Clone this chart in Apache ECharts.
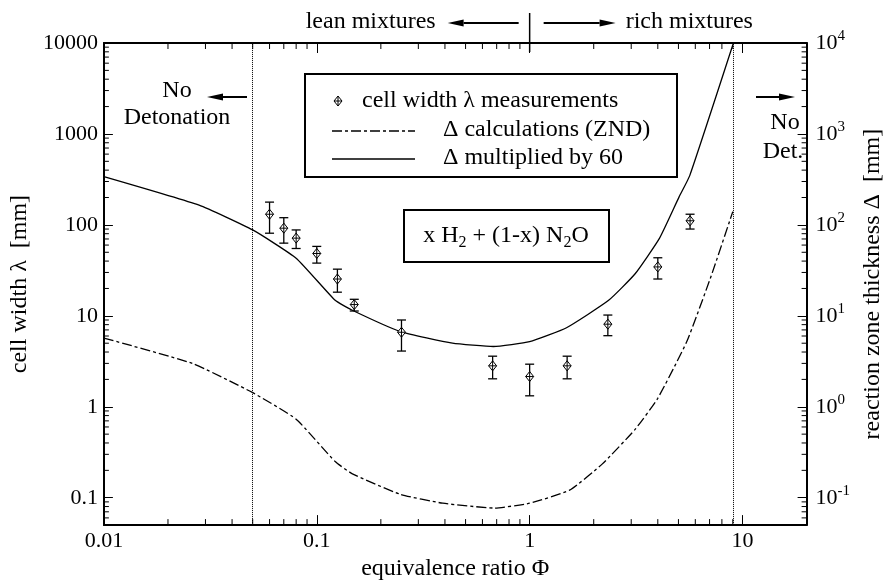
<!DOCTYPE html>
<html>
<head>
<meta charset="utf-8">
<script src="https://cdn.jsdelivr.net/npm/echarts@6/dist/echarts.min.js"></script>
<style>
html, body { margin: 0; padding: 0; background: #fff; }
#chart { width: 893px; height: 586px; }
</style>
</head>
<body>
<div id="chart"></div>
<script>
// measured cell widths (mm) with error bar ends
const measPhi    = [0.06, 0.07, 0.08, 0.10, 0.125, 0.15, 0.25, 0.67, 1.0, 1.5, 2.33, 4.0, 5.67];
const measLambda = [131, 92, 71.5, 48.5, 25.4, 13.3, 6.6, 2.82, 2.15, 2.82, 8.1, 34.5, 111];
const measLow    = [81, 63, 55, 38, 18.2, 11.3, 4.1, 2.03, 1.32, 2.03, 6.05, 25.4, 90];
const measHigh   = [178, 120, 88, 58, 32.6, 15.2, 9.0, 3.6, 2.94, 3.6, 10.2, 43.5, 131];

// ZND reaction zone thickness (mm)
const zndPhi   = [0.01, 0.026, 0.05, 0.08, 0.122, 0.147, 0.247, 0.391, 0.685, 1.0, 1.54, 2.19, 3.12, 3.99, 5.48, 7.13, 9.0];
const zndDelta = [5.7, 3.0, 1.43, 0.73, 0.25, 0.183, 0.109, 0.087, 0.077, 0.087, 0.121, 0.234, 0.56, 1.23, 5.25, 27.6, 140];

// Delta multiplied by 60 (mm)
const scaledPhi   = [0.01, 0.028, 0.05, 0.08, 0.122, 0.146, 0.248, 0.434, 0.676, 1.0, 1.49, 2.35, 3.13, 4.07, 5.03, 5.65, 9.0];
const scaledDelta = [340, 165, 88, 43, 14.8, 11.6, 6.7, 5.0, 4.6, 5.2, 7.4, 14.8, 29, 71, 202, 348, 9500];

// detonation limits
const limitPhi = [0.05, 9];

const X_MIN = 0.01, X_MAX = 20, Y_MIN = 0.05, Y_MAX = 10000;
const FONT = "'Liberation Serif', 'DejaVu Serif', serif";

// minor tick positions 2..9 in each decade
const minorSteps = [2, 3, 4, 5, 6, 7, 8, 9];
const xDecades = [0.01, 0.1, 1];
const yDecades = [0.01, 0.1, 1, 10, 100, 1000];
const xMinor = [];
xDecades.forEach(d => minorSteps.forEach(m => xMinor.push(+(d * m).toPrecision(3))));
const yMinor = [];
yDecades.forEach(d => minorSteps.forEach(m => {
  const v = +(d * m).toPrecision(3);
  if (v > Y_MIN && v < Y_MAX) yMinor.push(v);
}));

function isDecade(v) {
  const k = Math.log10(v);
  return Math.abs(k - Math.round(k)) < 1e-6;
}
function plainLabel(v) {
  if (!isDecade(v)) return '';
  const k = Math.round(Math.log10(v));
  return k < 0 ? v.toFixed(-k) : String(Math.round(v));
}
function powerLabel(v) {
  if (!isDecade(v)) return '';
  const k = Math.round(Math.log10(v));
  return '{b|10}{s|' + k + '}';
}

const black = '#000';
const tickStyle = { color: black, width: 1 };

function baseAxis(extra) {
  return Object.assign({
    type: 'log',
    logBase: 10,
    splitLine: { show: false },
    axisLine: { lineStyle: { color: black, width: 2 } },
    nameTextStyle: { color: black, fontFamily: FONT, fontSize: 24 }
  }, extra);
}

let chart = echarts.init(document.getElementById('chart'));

chart.setOption({
  animation: false,
  backgroundColor: '#fff',
  grid: { left: 103, top: 43, right: 70, bottom: 53 },
  xAxis: [
    baseAxis({
      position: 'bottom', min: X_MIN, max: X_MAX,
      axisTick: { inside: true, length: 10, lineStyle: tickStyle },
      axisLabel: { formatter: plainLabel, color: black, fontFamily: FONT, fontSize: 22, margin: 5 },
      name: 'equivalence ratio Φ', nameLocation: 'middle', nameGap: 31
    }),
    baseAxis({
      position: 'top', min: X_MIN, max: X_MAX,
      axisTick: { inside: true, length: 10, lineStyle: tickStyle },
      axisLabel: { show: false }
    })
  ],
  yAxis: [
    baseAxis({
      position: 'left', min: Y_MIN, max: Y_MAX,
      axisTick: { inside: true, length: 9, lineStyle: tickStyle },
      axisLabel: { formatter: plainLabel, color: black, fontFamily: FONT, fontSize: 22, margin: 6 },
      name: 'cell width λ  [mm]', nameLocation: 'middle', nameRotate: 90, nameGap: 68
    }),
    baseAxis({
      position: 'right', min: Y_MIN, max: Y_MAX,
      axisTick: { inside: true, length: 9, lineStyle: tickStyle },
      axisLabel: {
        formatter: powerLabel, color: black, margin: 9,
        rich: {
          b: { fontFamily: FONT, fontSize: 22, lineHeight: 28, color: black },
          s: { fontFamily: FONT, fontSize: 15, verticalAlign: 'top', color: black }
        }
      },
      name: 'reaction zone thickness Δ  [mm]', nameLocation: 'middle', nameRotate: 90, nameGap: 52
    })
  ],
  series: [
    {
      name: 'Δ multiplied by 60',
      type: 'line',
      xAxisIndex: 0, yAxisIndex: 0,
      data: scaledPhi.map((p, i) => [p, scaledDelta[i]]),
      symbol: 'none',
      smooth: 0.15,
      lineStyle: { color: black, width: 1.3 },
      markLine: {
        silent: true,
        symbol: 'none',
        label: { show: false },
        lineStyle: { color: black, width: 1, type: 'dotted' },
        data: limitPhi.map(v => ({ xAxis: v }))
      },
      z: 3
    },
    {
      name: 'Δ calculations (ZND)',
      type: 'line',
      xAxisIndex: 0, yAxisIndex: 1,
      data: zndPhi.map((p, i) => [p, zndDelta[i]]),
      symbol: 'none',
      smooth: 0.15,
      lineStyle: { color: black, width: 1.3, type: [10, 3, 3, 3] },
      z: 3
    },
    {
      name: 'cell width λ measurements',
      type: 'custom',
      xAxisIndex: 0, yAxisIndex: 0,
      data: measPhi.map((p, i) => [p, measLambda[i], measLow[i], measHigh[i]]),
      encode: { x: 0, y: 1 },
      renderItem: function (params, api) {
        const c = api.coord([api.value(0), api.value(1)]);
        const lo = api.coord([api.value(0), api.value(2)]);
        const hi = api.coord([api.value(0), api.value(3)]);
        const st = { stroke: black, lineWidth: 1.3, fill: null };
        const cap = 4.5, hw = 4, hh = 5;
        return {
          type: 'group',
          children: [
            { type: 'line', shape: { x1: c[0], y1: lo[1], x2: c[0], y2: hi[1] }, style: st },
            { type: 'line', shape: { x1: c[0] - cap, y1: lo[1], x2: c[0] + cap, y2: lo[1] }, style: st },
            { type: 'line', shape: { x1: c[0] - cap, y1: hi[1], x2: c[0] + cap, y2: hi[1] }, style: st },
            { type: 'polygon', shape: { points: [[c[0], c[1] - hh], [c[0] + hw, c[1]], [c[0], c[1] + hh], [c[0] - hw, c[1]]] },
              style: { stroke: black, lineWidth: 1, fill: '#fff' } },
            { type: 'line', shape: { x1: c[0] - hw, y1: c[1], x2: c[0] + hw, y2: c[1] }, style: { stroke: black, lineWidth: 1 } },
            { type: 'line', shape: { x1: c[0], y1: c[1] - hh, x2: c[0], y2: c[1] + hh }, style: { stroke: black, lineWidth: 1 } }
          ]
        };
      },
      z: 4
    },
    {
      // minor ticks on bottom and top axes
      type: 'custom',
      silent: true,
      xAxisIndex: 0, yAxisIndex: 0,
      data: xMinor.map(v => [v, Y_MIN]),
      encode: { x: 0, y: 1 },
      renderItem: function (params, api) {
        const b = api.coord([api.value(0), Y_MIN]);
        const t = api.coord([api.value(0), Y_MAX]);
        const st = { stroke: black, lineWidth: 1 };
        return {
          type: 'group',
          children: [
            { type: 'line', shape: { x1: b[0], y1: b[1], x2: b[0], y2: b[1] - 6 }, style: st },
            { type: 'line', shape: { x1: t[0], y1: t[1], x2: t[0], y2: t[1] + 6 }, style: st }
          ]
        };
      }
    },
    {
      // minor ticks on left and right axes
      type: 'custom',
      silent: true,
      xAxisIndex: 0, yAxisIndex: 0,
      data: yMinor.map(v => [X_MIN, v]),
      encode: { x: 0, y: 1 },
      renderItem: function (params, api) {
        const l = api.coord([X_MIN, api.value(1)]);
        const r = api.coord([X_MAX, api.value(1)]);
        const st = { stroke: black, lineWidth: 1 };
        return {
          type: 'group',
          children: [
            { type: 'line', shape: { x1: l[0], y1: l[1], x2: l[0] + 5, y2: l[1] }, style: st },
            { type: 'line', shape: { x1: r[0], y1: r[1], x2: r[0] - 5, y2: r[1] }, style: st }
          ]
        };
      }
    }
  ]
});

// annotations, legend box and formula box
function arrow(tail, tip, y) {
  const dir = tip > tail ? 1 : -1;
  const headLen = 16, half = 3.5;
  return [
    { type: 'line', shape: { x1: tail, y1: y, x2: tip - dir * headLen, y2: y }, style: { stroke: black, lineWidth: 2 } },
    { type: 'polygon', shape: { points: [[tip, y], [tip - dir * headLen, y - half], [tip - dir * headLen, y + half]] }, style: { fill: black } }
  ];
}
function label(text, x, y, align) {
  return { type: 'text', x: x, y: y,
    style: { text: text, fontFamily: FONT, fontSize: 24, fill: black, align: align || 'center', verticalAlign: 'middle' } };
}

const divX = chart.convertToPixel({ xAxisIndex: 0 }, 1);
const plotTop = chart.convertToPixel({ yAxisIndex: 0 }, Y_MAX);

let g = [];
// lean / rich header
g.push(label('lean mixtures', divX - 94, 22, 'right'));
g = g.concat(arrow(divX - 11, divX - 82, 23));
g.push({ type: 'line', shape: { x1: divX, y1: 13, x2: divX, y2: plotTop + 9 }, style: { stroke: black, lineWidth: 1.5 } });
g = g.concat(arrow(divX + 14, divX + 86, 23));
g.push(label('rich mixtures', divX + 96, 22, 'left'));

// no detonation regions
g.push(label('No', 177, 91));
g.push(label('Detonation', 177, 118));
g = g.concat(arrow(247, 207, 97));
g.push(label('No', 785, 123));
g.push(label('Det.', 783, 152));
g = g.concat(arrow(756, 795, 97));

// legend box
g.push({ type: 'rect', shape: { x: 305, y: 74, width: 372, height: 103 }, style: { stroke: black, lineWidth: 2, fill: '#fff' }, z: 10 });
const mk = [338, 101];
g.push({ type: 'polygon', shape: { points: [[mk[0], mk[1] - 5], [mk[0] + 4, mk[1]], [mk[0], mk[1] + 5], [mk[0] - 4, mk[1]]] }, style: { stroke: black, lineWidth: 1, fill: '#fff' }, z: 11 });
g.push({ type: 'line', shape: { x1: mk[0] - 4, y1: mk[1], x2: mk[0] + 4, y2: mk[1] }, style: { stroke: black, lineWidth: 1 }, z: 11 });
g.push({ type: 'line', shape: { x1: mk[0], y1: mk[1] - 5, x2: mk[0], y2: mk[1] + 5 }, style: { stroke: black, lineWidth: 1 }, z: 11 });
g.push(Object.assign(label('cell width λ measurements', 362, 101, 'left'), { z: 11 }));
g.push({ type: 'line', shape: { x1: 332, y1: 131, x2: 415, y2: 131 }, style: { stroke: black, lineWidth: 1.3, lineDash: [10, 3, 3, 3] }, z: 11 });
g.push(Object.assign(label('Δ calculations (ZND)', 443, 130, 'left'), { z: 11 }));
g.push({ type: 'line', shape: { x1: 332, y1: 159, x2: 415, y2: 159 }, style: { stroke: black, lineWidth: 1.3 }, z: 11 });
g.push(Object.assign(label('Δ multiplied by 60', 443, 158, 'left'), { z: 11 }));

// mixture formula box
g.push({ type: 'rect', shape: { x: 404, y: 210, width: 205, height: 52 }, style: { stroke: black, lineWidth: 2, fill: '#fff' }, z: 10 });
g.push({ type: 'text', x: 506, y: 236, z: 11,
  style: {
    text: 'x H{s|2} + (1-x) N{s|2}O',
    fontFamily: FONT, fontSize: 24, lineHeight: 30, fill: black, align: 'center', verticalAlign: 'middle',
    rich: { s: { fontFamily: FONT, fontSize: 16, verticalAlign: 'bottom', fill: black } }
  } });

chart.setOption({ graphic: g });
</script>
</body>
</html>
